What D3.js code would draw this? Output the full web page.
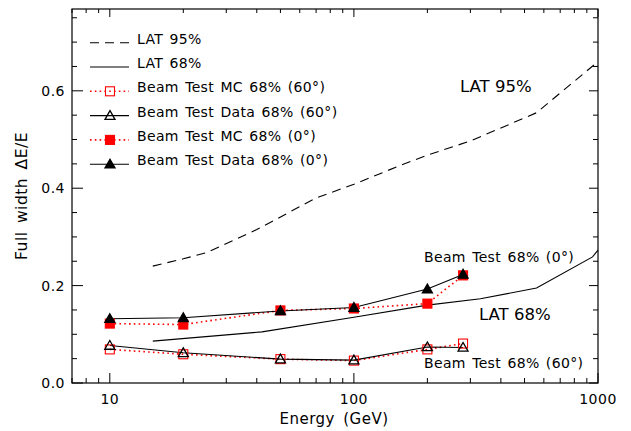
<!DOCTYPE html>
<html>
<head>
<meta charset="utf-8">
<script src="https://cdn.jsdelivr.net/npm/d3@7"></script>
<style>
  body { margin: 0; background: #fff; }
  svg text { font-family: "DejaVu Sans", sans-serif; fill: #000; }
</style>
</head>
<body>
<svg id="chart" width="631" height="431"></svg>
<script>
// beam test energies (GeV)
const energies = [10, 20, 50, 100, 200, 280];
const dataZero = [0.132, 0.134, 0.148, 0.155, 0.193, 0.223];
const mcZero = [0.122, 0.120, 0.149, 0.153, 0.163, 0.221];
const dataSixty = [0.077, 0.062, 0.049, 0.047, 0.074, 0.073];
const mcSixty = [0.069, 0.059, 0.049, 0.046, 0.069, 0.081];

// LAT curves
const lat95E = [15, 20, 25, 40, 70, 100, 150, 200, 300, 560, 1000];
const lat95V = [0.240, 0.255, 0.268, 0.315, 0.380, 0.408, 0.444, 0.468, 0.497, 0.555, 0.660];
const lat68E = [15, 42, 100, 200, 330, 560, 950, 1000];
const lat68V = [0.086, 0.105, 0.135, 0.160, 0.173, 0.195, 0.259, 0.273];

const xTicks = [10, 100, 1000];
const yTicks = [0, 0.2, 0.4, 0.6];

const svg = d3.select("#chart");
const pLeft = 72, pRight = 598, pTop = 9, pBottom = 383;

const x = d3.scaleLog().domain([7, 1000]).range([pLeft, pRight]);
const y = d3.scaleLinear().domain([0, 0.768]).range([pBottom, pTop]);

// frame
svg.append("rect")
  .attr("x", pLeft).attr("y", pTop)
  .attr("width", pRight - pLeft).attr("height", pBottom - pTop)
  .attr("fill", "none").attr("stroke", "#000").attr("stroke-width", 1.2);

// x ticks (bottom + top)
let xMinor = [];
[1, 10, 100].forEach(d => { for (let k = 2; k < 10; k++) { const v = d * k; if (v >= 7 && v <= 1000) xMinor.push(v); } });
const xg = svg.append("g");
xg.selectAll("line.xmaj").data(xTicks).enter().append("line")
  .attr("x1", d => x(d)).attr("x2", d => x(d))
  .attr("y1", pBottom).attr("y2", pBottom - 10)
  .attr("stroke", "#000");
xg.selectAll("line.xmajt").data(xTicks).enter().append("line")
  .attr("x1", d => x(d)).attr("x2", d => x(d))
  .attr("y1", pTop).attr("y2", pTop + 8)
  .attr("stroke", "#000");
xg.selectAll("line.xmin").data(xMinor).enter().append("line")
  .attr("x1", d => x(d)).attr("x2", d => x(d))
  .attr("y1", pBottom).attr("y2", pBottom - 5)
  .attr("stroke", "#000");
xg.selectAll("line.xmint").data(xMinor).enter().append("line")
  .attr("x1", d => x(d)).attr("x2", d => x(d))
  .attr("y1", pTop).attr("y2", pTop + 4)
  .attr("stroke", "#000");
xg.selectAll("text").data(xTicks).enter().append("text")
  .attr("x", d => x(d)).attr("y", pBottom + 21)
  .attr("text-anchor", "middle").attr("font-size", 14)
  .attr("letter-spacing", 0.5)
  .text(d => d);

// y ticks (left + right)
const yMinor = d3.range(0.05, 0.76, 0.05).filter(v => Math.abs(v / 0.2 - Math.round(v / 0.2)) > 0.01);
const yg = svg.append("g");
yg.selectAll("line.ymaj").data(yTicks).enter().append("line")
  .attr("x1", pLeft).attr("x2", pLeft + 11)
  .attr("y1", d => y(d)).attr("y2", d => y(d))
  .attr("stroke", "#000");
yg.selectAll("line.ymajr").data(yTicks).enter().append("line")
  .attr("x1", pRight).attr("x2", pRight - 9)
  .attr("y1", d => y(d)).attr("y2", d => y(d))
  .attr("stroke", "#000");
yg.selectAll("line.ymin").data(yMinor).enter().append("line")
  .attr("x1", pLeft).attr("x2", pLeft + 5)
  .attr("y1", d => y(d)).attr("y2", d => y(d))
  .attr("stroke", "#000");
yg.selectAll("line.yminr").data(yMinor).enter().append("line")
  .attr("x1", pRight).attr("x2", pRight - 5)
  .attr("y1", d => y(d)).attr("y2", d => y(d))
  .attr("stroke", "#000");
yg.selectAll("text").data(yTicks).enter().append("text")
  .attr("x", pLeft - 7).attr("y", d => y(d) + 5)
  .attr("text-anchor", "end").attr("font-size", 14)
  .attr("letter-spacing", 0.5)
  .text(d => d.toFixed(1));

// axis titles
svg.append("text")
  .attr("x", 334).attr("y", 424)
  .attr("text-anchor", "middle").attr("font-size", 15)
  .attr("letter-spacing", 0.5).attr("word-spacing", 3)
  .text("Energy (GeV)");
svg.append("text")
  .attr("transform", `translate(27,${(pTop + pBottom) / 2}) rotate(-90)`)
  .attr("text-anchor", "middle").attr("font-size", 15.5)
  .attr("letter-spacing", 0.5).attr("word-spacing", 3)
  .text("Full width ΔE/E");

const line = d3.line().x(d => x(d[0])).y(d => y(d[1]));
const pair = (xs, ys) => xs.map((e, i) => [e, ys[i]]);

// LAT curves
svg.append("path").datum(pair(lat95E, lat95V)).attr("d", line)
  .attr("fill", "none").attr("stroke", "#000").attr("stroke-width", 1.1)
  .attr("stroke-dasharray", "9,6");
svg.append("path").datum(pair(lat68E, lat68V)).attr("d", line)
  .attr("fill", "none").attr("stroke", "#000").attr("stroke-width", 1.1);

// beam test series
const series = [
  { vals: mcSixty, color: "#ff0000", dotted: true, marker: "square", filled: false },
  { vals: dataSixty, color: "#000", dotted: false, marker: "triangle", filled: false },
  { vals: mcZero, color: "#ff0000", dotted: true, marker: "square", filled: true },
  { vals: dataZero, color: "#000", dotted: false, marker: "triangle", filled: true }
];

function styleLine(sel, s) {
  sel.attr("fill", "none").attr("stroke", s.color)
    .attr("stroke-width", s.dotted ? 1.6 : 1.1)
    .attr("stroke-dasharray", s.dotted ? "1.6,3.2" : null);
}
function drawMarker(g, cx, cy, s) {
  if (s.marker === "square") {
    g.append("rect").attr("x", cx - 4.5).attr("y", cy - 4.5)
      .attr("width", 9).attr("height", 9)
      .attr("fill", s.filled ? s.color : "none")
      .attr("stroke", s.color).attr("stroke-width", 1.1);
  } else {
    const h = 5;
    g.append("path")
      .attr("d", `M${cx},${cy - h}L${cx + h},${cy + h * 0.75}L${cx - h},${cy + h * 0.75}Z`)
      .attr("fill", s.filled ? "#000" : "none")
      .attr("stroke", "#000").attr("stroke-width", 1.3);
  }
}

series.forEach(s => {
  svg.append("path").datum(pair(energies, s.vals)).attr("d", line).call(styleLine, s);
});
series.forEach(s => {
  energies.forEach((e, i) => drawMarker(svg, x(e), y(s.vals[i]), s));
});

// legend
const legendLabels = [
  "LAT 95%", "LAT 68%",
  "Beam Test MC 68% (60°)", "Beam Test Data 68% (60°)",
  "Beam Test MC 68% (0°)", "Beam Test Data 68% (0°)"
];
const lg = svg.append("g");
legendLabels.forEach((lab, i) => {
  const ly = 42.7 + i * 24.3;
  const seg = lg.append("line").attr("x1", 90).attr("x2", 129).attr("y1", ly).attr("y2", ly);
  if (i < 2) {
    seg.attr("stroke", "#000").attr("stroke-width", 1.1)
      .attr("stroke-dasharray", i === 0 ? "9,6" : null);
  } else {
    const s = series[i - 2];
    seg.call(styleLine, s);
    drawMarker(lg, 110, ly, s);
  }
  lg.append("text").attr("x", 137).attr("y", ly + 1).attr("font-size", 14)
    .attr("letter-spacing", 0.35).attr("word-spacing", 1.5).text(lab);
});

// annotations
svg.append("text").attr("x", 460).attr("y", 92).attr("font-size", 16.5).text("LAT 95%");
svg.append("text").attr("x", 479).attr("y", 320).attr("font-size", 16.5).text("LAT 68%");
svg.append("text").attr("x", 424).attr("y", 262).attr("font-size", 14)
  .attr("letter-spacing", 0.35).attr("word-spacing", 1.5).text("Beam Test 68% (0°)");
svg.append("text").attr("x", 424).attr("y", 368).attr("font-size", 14)
  .attr("letter-spacing", 0.35).attr("word-spacing", 1.5).text("Beam Test 68% (60°)");
</script>
</body>
</html>
